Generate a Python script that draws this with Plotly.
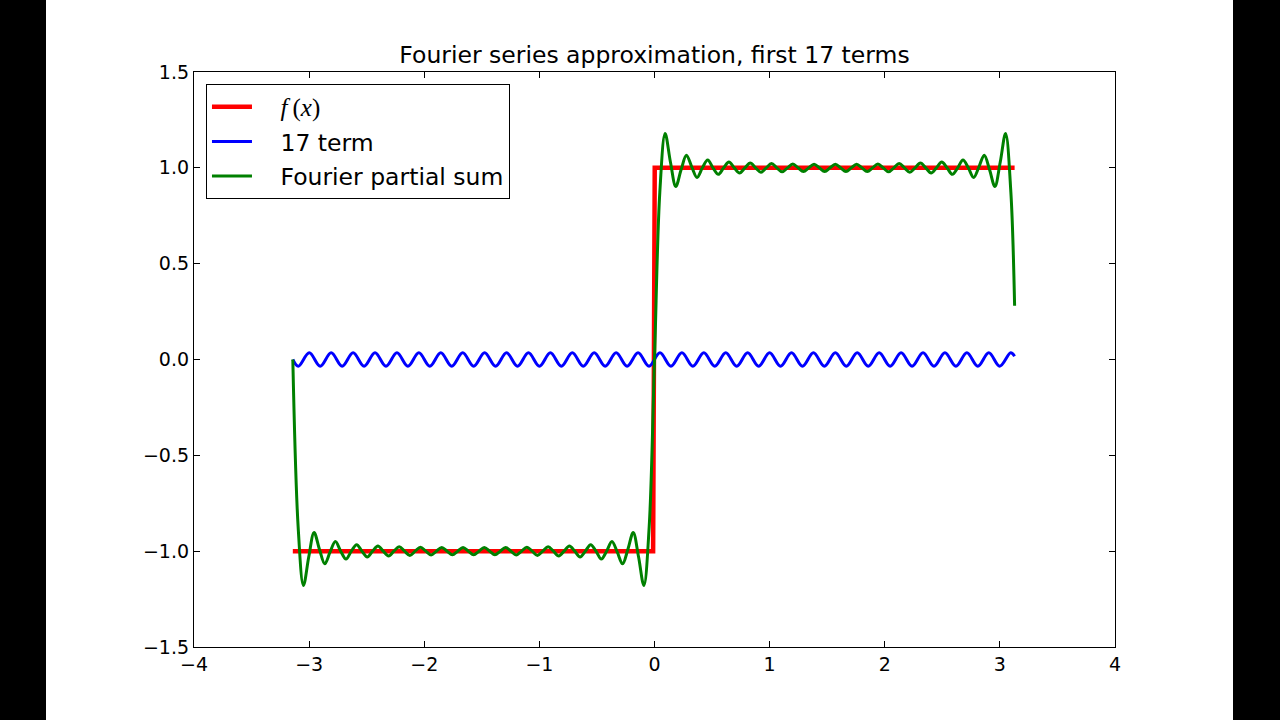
import plotly.graph_objects as go

# ---------------- data ----------------
# f(x): square wave
f_x = [-3.1416, -0.012, 0.002, 3.128]
f_y = [-1.0, -1.0, 1.0, 1.0]

# "17 term": small sinusoid, extrema
term_x = [-3.1416,
          -3.0940, -2.9988, -2.9036, -2.8084, -2.7132, -2.6180, -2.5228, -2.4276, -2.3324, -2.2372,
          -2.1420, -2.0468, -1.9516, -1.8564, -1.7612, -1.6660, -1.5708, -1.4756, -1.3804, -1.2852,
          -1.1900, -1.0948, -0.9996, -0.9044, -0.8092, -0.7140, -0.6188, -0.5236, -0.4284, -0.3332,
          -0.2380, -0.1428, -0.0476,
          0.0476, 0.1428, 0.2380, 0.3332, 0.4284, 0.5236, 0.6188, 0.7140, 0.8092, 0.9044,
          0.9996, 1.0948, 1.1900, 1.2852, 1.3804, 1.4756, 1.5708, 1.6660, 1.7612, 1.8564,
          1.9516, 2.0468, 2.1420, 2.2372, 2.3324, 2.4276, 2.5228, 2.6180, 2.7132, 2.8084,
          2.9036, 2.9988, 3.0940,
          3.128]
term_y = [0.0,
          -0.035, 0.035, -0.035, 0.035, -0.035, 0.035, -0.035, 0.035, -0.035, 0.035,
          -0.035, 0.035, -0.035, 0.035, -0.035, 0.035, -0.035, 0.035, -0.035, 0.035,
          -0.035, 0.035, -0.035, 0.035, -0.035, 0.035, -0.035, 0.035, -0.035, 0.035,
          -0.035, 0.035, -0.035,
          0.035, -0.035, 0.035, -0.035, 0.035, -0.035, 0.035, -0.035, 0.035, -0.035,
          0.035, -0.035, 0.035, -0.035, 0.035, -0.035, 0.035, -0.035, 0.035, -0.035,
          0.035, -0.035, 0.035, -0.035, 0.035, -0.035, 0.035, -0.035, 0.035, -0.035,
          0.035, -0.035, 0.035,
          0.017]

# Fourier partial sum: extrema and level crossings
sum_x = [-3.1416, -3.0954, -3.0492, -3.0030, -2.9568, -2.9106, -2.8644, -2.8182, -2.7720, -2.7258,
         -2.6796, -2.6334, -2.5872, -2.5410, -2.4948, -2.4486, -2.4024, -2.3562, -2.3100, -2.2638,
         -2.2176, -2.1714, -2.1252, -2.0790, -2.0328, -1.9866, -1.9404, -1.8942, -1.8480, -1.8018,
         -1.7556, -1.7094, -1.6632, -1.6170, -1.5708, -1.5246, -1.4784, -1.4322, -1.3860, -1.3398,
         -1.2936, -1.2474, -1.2012, -1.1550, -1.1088, -1.0626, -1.0164, -0.9702, -0.9240, -0.8778,
         -0.8316, -0.7854, -0.7392, -0.6930, -0.6468, -0.6006, -0.5544, -0.5082, -0.4620, -0.4158,
         -0.3696, -0.3234, -0.2772, -0.2310, -0.1848, -0.1386, -0.0924, -0.0462,
         0.0000,
         0.0462, 0.0924, 0.1386, 0.1848, 0.2310, 0.2772, 0.3234, 0.3696, 0.4158, 0.4620,
         0.5082, 0.5544, 0.6006, 0.6468, 0.6930, 0.7392, 0.7854, 0.8316, 0.8778, 0.9240,
         0.9702, 1.0164, 1.0626, 1.1088, 1.1550, 1.2012, 1.2474, 1.2936, 1.3398, 1.3860,
         1.4322, 1.4784, 1.5246, 1.5708, 1.6170, 1.6632, 1.7094, 1.7556, 1.8018, 1.8480,
         1.8942, 1.9404, 1.9866, 2.0328, 2.0790, 2.1252, 2.1714, 2.2176, 2.2638, 2.3100,
         2.3562, 2.4024, 2.4486, 2.4948, 2.5410, 2.5872, 2.6334, 2.6796, 2.7258, 2.7720,
         2.8182, 2.8644, 2.9106, 2.9568, 3.0030, 3.0492, 3.0954, 3.128]
sum_y = [0.0, -0.873, -1.179, -1.029, -0.903, -0.990, -1.066, -1.005, -0.950, -1.0,
         -1.041, -1.0, -0.966, -1.0, -1.030, -1.0, -0.973, -1.0, -1.025, -1.0,
         -0.977, -1.0, -1.022, -1.0, -0.979, -1.0, -1.020, -1.0, -0.981, -1.0,
         -1.019, -1.0, -0.981, -1.0, -1.019, -1.0, -0.981, -1.0, -1.019, -1.0,
         -0.981, -1.0, -1.020, -1.0, -0.979, -1.0, -1.022, -1.0, -0.977, -1.0,
         -1.025, -1.0, -0.973, -1.0, -1.030, -1.0, -0.966, -1.0, -1.041, -1.0,
         -0.950, -1.005, -1.066, -0.990, -0.903, -1.029, -1.179, -0.873,
         0.0,
         0.873, 1.179, 1.029, 0.903, 0.990, 1.066, 1.005, 0.950, 1.0, 1.041,
         1.0, 0.966, 1.0, 1.030, 1.0, 0.973, 1.0, 1.025, 1.0, 0.977,
         1.0, 1.022, 1.0, 0.979, 1.0, 1.020, 1.0, 0.981, 1.0, 1.019,
         1.0, 0.981, 1.0, 1.019, 1.0, 0.981, 1.0, 1.019, 1.0, 0.981,
         1.0, 1.020, 1.0, 0.979, 1.0, 1.022, 1.0, 0.977, 1.0, 1.025,
         1.0, 0.973, 1.0, 1.030, 1.0, 0.966, 1.0, 1.041, 1.0, 0.950,
         1.005, 1.066, 0.990, 0.903, 1.029, 1.179, 0.873, 0.28]

title_text = "Fourier series approximation, first 17 terms"
pad = "\u2002\u2002"
names = [pad + '<span style="font-family:\'Liberation Serif\'; font-size:25px"><i>f</i>\u2009(<i>x</i>)</span>',
         pad + "17 term", pad + "Fourier partial sum"]
colors = ["#ff0000", "#0000ff", "#008000"]

# ---------------- figure ----------------
fig = go.Figure()
fig.add_trace(go.Scatter(x=f_x, y=f_y, mode="lines", name=names[0],
                         line=dict(color=colors[0], width=4.5), legendgroup="a"))
fig.add_trace(go.Scatter(x=term_x, y=term_y, mode="lines", name=names[1],
                         line=dict(color=colors[1], width=3, shape="spline"), legendgroup="b"))
fig.add_trace(go.Scatter(x=sum_x, y=sum_y, mode="lines", name=names[2],
                         line=dict(color=colors[2], width=3, shape="spline"), legendgroup="c"))

font_main = "DejaVu Sans"
axis_common = dict(
    showgrid=False, zeroline=False, showline=True, linecolor="black", linewidth=1.3,
    mirror="ticks", ticks="inside", ticklen=6, tickwidth=1, tickcolor="black",
    tickfont=dict(family=font_main, size=19, color="black"),
)

fig.update_layout(
    width=1280, height=720, autosize=False,
    paper_bgcolor="white", plot_bgcolor="white",
    margin=dict(l=194, r=165, t=72, b=73, pad=0),
    title=dict(text=title_text, x=0.5, xref="paper", xanchor="center",
               y=1 - 55 / 720, yref="container", yanchor="middle",
               font=dict(family=font_main, size=23.5, color="black")),
    xaxis=dict(range=[-4, 4], dtick=1, tick0=0, tickformat="d", ticklabelstandoff=0, **axis_common),
    yaxis=dict(range=[-1.5, 1.5], dtick=0.5, tick0=0, tickformat=".1f", ticklabelstandoff=0, **axis_common),
    legend=dict(x=0.013, y=0.979, xanchor="left", yanchor="top",
                bgcolor="white", bordercolor="black", borderwidth=1,
                font=dict(family=font_main, size=23.5, color="black"),
                traceorder="grouped", tracegroupgap=1, itemwidth=40),
    showlegend=True,
    shapes=[
        dict(type="rect", xref="paper", yref="paper", x0=-0.25, x1=(46 - 194) / 921,
             y0=-0.5, y1=1.5, fillcolor="black", line=dict(width=0), layer="above"),
        dict(type="rect", xref="paper", yref="paper", x0=(1233 - 194) / 921, x1=1.25,
             y0=-0.5, y1=1.5, fillcolor="black", line=dict(width=0), layer="above"),
    ],
)

fig.write_html("out.html", config={"displayModeBar": False},
               post_script="document.body.style.margin='0px';document.body.style.padding='0px';")
